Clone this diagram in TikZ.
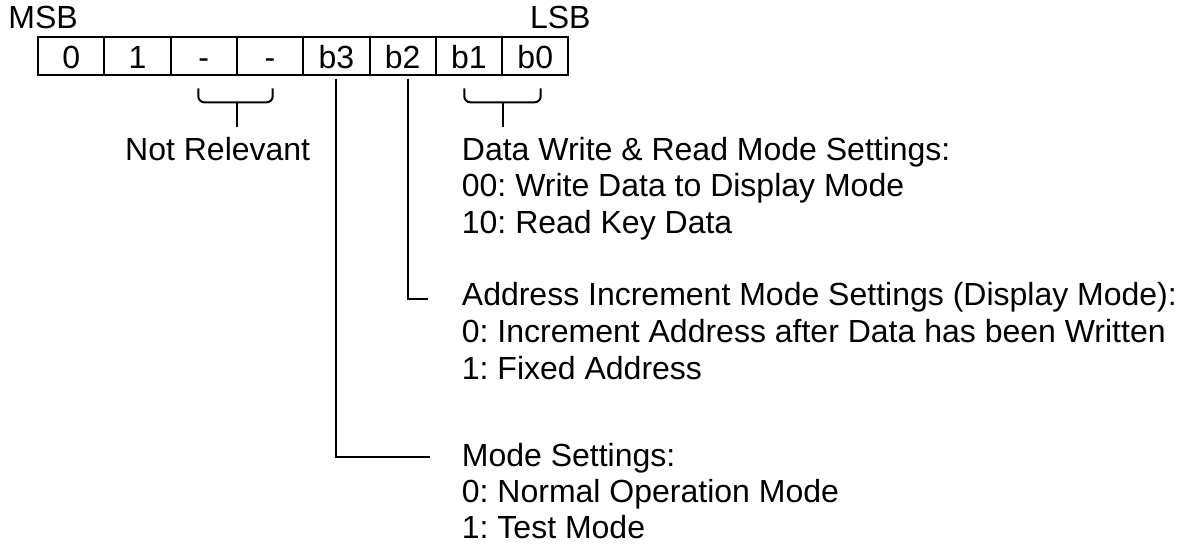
\documentclass[tikz,border=0pt]{standalone}
\usepackage{fontspec}
\setmainfont{Liberation Sans}
\newcommand\dgfsz{\fontsize{32}{36.6}\selectfont}
\frenchspacing
\begin{document}
\begin{tikzpicture}[x=1pt,y=-1pt,
  cell/.style={draw,line width=2pt,minimum width=66.3pt,minimum height=38pt,inner sep=0pt,text height=25.4pt,text depth=0pt,anchor=north west,font=\dgfsz},
  lbl/.style={anchor=base west,inner sep=0pt,font=\dgfsz},
  lead/.style={line width=2pt},
  brk/.style={line width=2pt,rounded corners=6pt}]
\useasboundingbox (0,0) rectangle (1180,544);
% register cells
\node[cell] (c7) at (37,36) {0};
\node[cell] (c6) at (103.3,36) {1};
\node[cell] (c5) at (169.6,36) {-};
\node[cell] (c4) at (235.9,36) {-};
\node[cell] (c3) at (302.2,36) {b3};
\node[cell] (c2) at (368.5,36) {b2};
\node[cell] (c1) at (434.8,36) {b1};
\node[cell] (c0) at (501.1,36) {b0};
% MSB / LSB
\node[lbl] (msb) at (8.3,28.3) {MSB};
\node[lbl,anchor=base east] (lsb) at (590.7,28.3) {LSB};
% Not relevant bracket
\draw[brk] (198.3,88.3) -- (198.3,102.3) -- (272.7,102.3) -- (272.7,88.3);
\coordinate (nrs) at (236.7,102.3);
\coordinate (nre) at (236.7,127.3);
\draw[lead] (nrs) -- (nre);
\node[lbl] (nr) at (125,160) {Not Relevant};
% b1 b0 bracket
\draw[brk] (464.3,88.3) -- (464.3,102.3) -- (540.7,102.3) -- (540.7,88.3);
\coordinate (dbs) at (502.8,102.3);
\coordinate (dbe) at (502.8,127.3);
\draw[lead] (dbs) -- (dbe);
% text block 1
\node[lbl] (d1) at (461.7,160) {Data Write \& Read Mode Settings:};
\node[lbl] (d2) at (461.7,196.7) {00: Write Data to Display Mode};
\node[lbl] (d3) at (461.7,233.3) {10: Read Key Data};
% b2 leader
\coordinate (b2end) at (428.3,299);
\draw[lead] ([xshift=5.6pt,yshift=-2.5pt]c2.south) |- (b2end);
\node[lbl] (a1) at (461.7,305.7) {Address Increment Mode Settings (Display Mode):};
\node[lbl] (a2) at (461.7,342.3) {0: Increment Address after Data has been Written};
\node[lbl] (a3) at (461.7,379) {1: Fixed Address};
% b3 leader
\coordinate (b3end) at (430,457.3);
\draw[lead] ([yshift=-2.5pt]c3.south) |- (b3end);
\node[lbl] (m1) at (461.7,466.8) {Mode Settings:};
\node[lbl] (m2) at (461.7,502.8) {0: Normal Operation Mode};
\node[lbl] (m3) at (461.7,538.6) {1: Test Mode};
\end{tikzpicture}
\end{document}
